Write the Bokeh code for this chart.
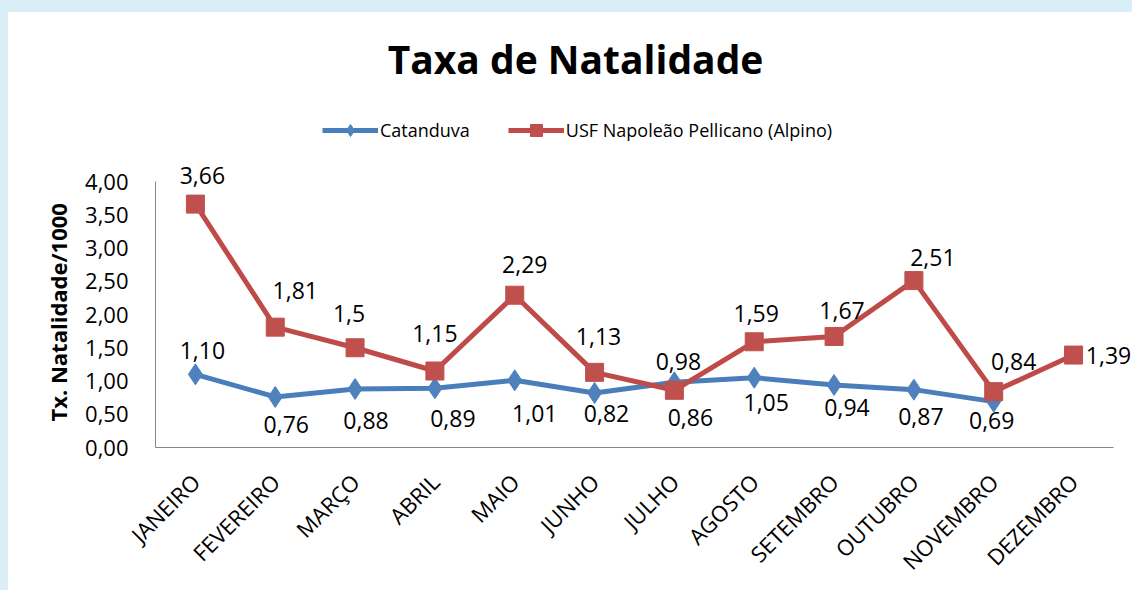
import math
from bokeh.plotting import figure
from bokeh.layouts import column
from bokeh.models import (ColumnDataSource, Range1d, FixedTicker, Title,
                          LabelSet, Label, Legend, LegendItem)
from bokeh.core.properties import value
from bokeh.embed import file_html
from bokeh.resources import INLINE

# ---------------- data ----------------
months = ["JANEIRO", "FEVEREIRO", "MARÇO", "ABRIL", "MAIO", "JUNHO",
          "JULHO", "AGOSTO", "SETEMBRO", "OUTUBRO", "NOVEMBRO", "DEZEMBRO"]
catanduva = [1.10, 0.76, 0.88, 0.89, 1.01, 0.82, 0.98, 1.05, 0.94, 0.87, 0.69]
catanduva_labels = ["1,10", "0,76", "0,88", "0,89", "1,01", "0,82",
                    "0,98", "1,05", "0,94", "0,87", "0,69"]
alpino = [3.66, 1.81, 1.5, 1.15, 2.29, 1.13, 0.86, 1.59, 1.67, 2.51, 0.84, 1.39]
alpino_labels = ["3,66", "1,81", "1,5", "1,15", "2,29", "1,13",
                 "0,86", "1,59", "1,67", "2,51", "0,84", "1,39"]
y_ticks = [0, 0.5, 1, 1.5, 2, 2.5, 3, 3.5, 4]
y_tick_labels = ["0,00", "0,50", "1,00", "1,50", "2,00", "2,50", "3,00", "3,50", "4,00"]

# label placement offsets (screen px, style only)
cat_dx = [7, 11, 11, 18, 20, 12, 4, 12, 13, 7, -2]
cat_dy = [24, -28, -32, -30, -33, -21, 21, -25, -23, -27, -19]
alp_dx = [7, 20, -6, 0, 10, 4, 16, 2, 8, 19, 20, 35]
alp_dy = [29, 37, 34, 38, 31, 36, -27, 28, 26, 23, 30, 0]

FONT = "Open Sans"
BLUE_L, BLUE_M = "#4A7EBB", "#4F81BD"
RED_L, RED_M = "#BE4B48", "#C0504D"

xpos = list(range(len(months)))
W, H = 1124, 578
LEFT, BOTTOM = 147, 143
frame_h = H - BOTTOM
frame_w = W - LEFT
px_per_y = 66.5
px_per_x = 79.83

p = figure(width=W, height=H,
           x_range=Range1d(-0.5, -0.5 + frame_w / px_per_x),
           y_range=Range1d(0, frame_h / px_per_y),
           output_backend="svg", toolbar_location=None,
           min_border_left=LEFT, min_border_right=0, min_border_top=0, min_border_bottom=BOTTOM,
           background_fill_color=None, border_fill_color=None, outline_line_color=None,
           styles={"background-color": "white"})
p.xgrid.visible = False
p.ygrid.visible = False

src_c = ColumnDataSource(dict(x=xpos[:len(catanduva)], y=catanduva, text=catanduva_labels,
                              dx=cat_dx, dy=cat_dy))
src_a = ColumnDataSource(dict(x=xpos, y=alpino, text=alpino_labels, dx=alp_dx, dy=alp_dy))

bl = p.line("x", "y", source=src_c, line_color=BLUE_L, line_width=5)
bm = p.scatter("x", "y", source=src_c, marker="diamond", size=21,
               fill_color=BLUE_M, line_color=BLUE_M)
rl = p.line("x", "y", source=src_a, line_color=RED_L, line_width=5)
rm = p.scatter("x", "y", source=src_a, marker="square", size=18,
               fill_color=RED_M, line_color=RED_M)

for src in (src_c, src_a):
    p.add_layout(LabelSet(x="x", y="y", text="text", x_offset="dx", y_offset="dy", source=src,
                          text_align="center", text_baseline="middle",
                          text_font=value(FONT), text_font_size="23px", text_color="black"))

# axes
p.xaxis.ticker = FixedTicker(ticks=xpos)
p.xaxis.major_label_overrides = dict(zip(xpos, months))
p.xaxis.bounds = (-0.5, len(months) - 0.5)
p.xaxis.major_label_orientation = math.pi / 4
p.xaxis.major_label_text_font = FONT
p.xaxis.major_label_text_font_size = "22px"
p.xaxis.major_label_text_color = "black"
p.xaxis.major_label_standoff = 30
p.xaxis.major_tick_out = 0
p.xaxis.major_tick_in = 0
p.xaxis.major_tick_line_color = None
p.xaxis.minor_tick_line_color = None
p.xaxis.axis_line_color = "#868686"

p.yaxis.ticker = FixedTicker(ticks=y_ticks)
p.yaxis.bounds = (y_ticks[0], y_ticks[-1])
p.yaxis.major_label_overrides = dict(zip(y_ticks, y_tick_labels))
p.yaxis.major_label_text_font = FONT
p.yaxis.major_label_text_font_size = "22px"
p.yaxis.major_label_text_color = "black"
p.yaxis.major_label_standoff = 27
p.yaxis.major_tick_out = 0
p.yaxis.major_tick_in = 0
p.yaxis.major_tick_line_color = None
p.yaxis.minor_tick_line_color = None
p.yaxis.axis_line_color = "#868686"

# y axis title, centred on the 0..4 span rather than the whole frame
ytitle = Title(text="Tx. Natalidade/1000", align="left", offset=26, standoff=19,
               text_font=FONT, text_font_size="22px", text_font_style="bold",
               text_color="black")
p.add_layout(ytitle, "left")

# chart title
p.add_layout(Label(x=420, y=389, x_units="screen", y_units="screen", text="Taxa de Natalidade",
                   text_align="center", text_baseline="middle", text_font=FONT,
                   text_font_size="39px", text_font_style="bold", text_color="black"))

legend = Legend(items=[LegendItem(label="Catanduva", renderers=[bl, bm]),
                       LegendItem(label="USF Napoleão Pellicano (Alpino)", renderers=[rl, rm])],
                orientation="horizontal", location=(167, 302), glyph_width=56, glyph_height=30,
                label_height=30, label_standoff=2, spacing=38, padding=0, margin=0,
                border_line_color=None, background_fill_alpha=0,
                label_text_font=FONT, label_text_font_size="18px", label_text_color="black")
p.add_layout(legend, "center")

page = column(p, styles={"background-color": "#DAEEF7", "padding-left": "8px",
                         "padding-top": "12px"})

open("out.html", "w").write(file_html(page, INLINE))
